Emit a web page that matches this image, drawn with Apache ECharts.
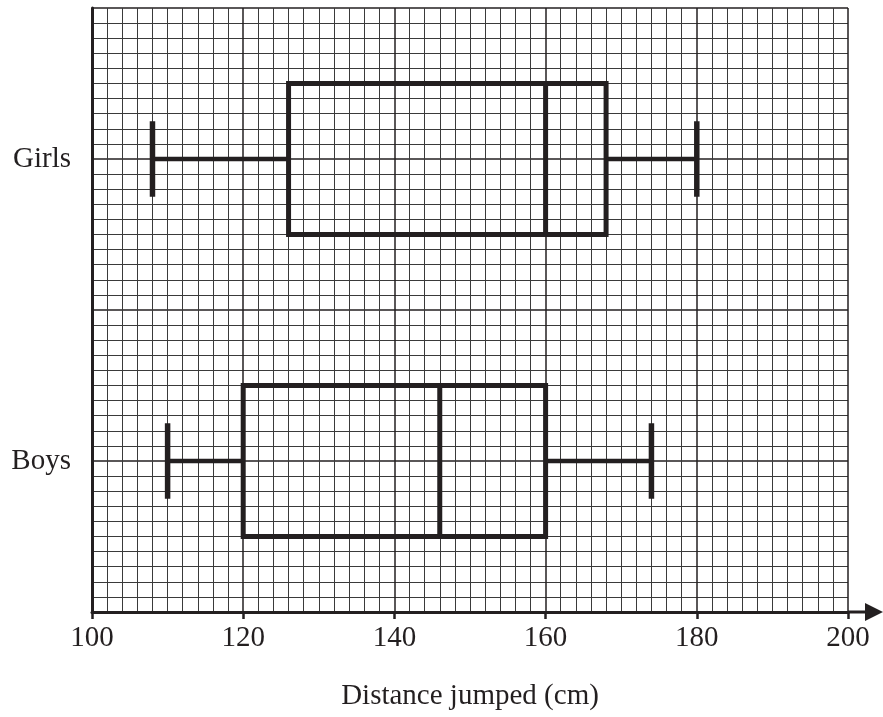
<!DOCTYPE html>
<html>
<head>
<meta charset="utf-8">
<script src="https://cdn.jsdelivr.net/npm/echarts@6/dist/echarts.min.js"></script>
<style>html,body{margin:0;padding:0;background:#fff}#c{width:883px;height:717px}</style>
</head>
<body>
<div id="c"></div>
<script>
var groups = ['Girls', 'Boys'];
var groupY = [60, 20];
var minVals = [108, 110];
var q1Vals = [126, 120];
var medianVals = [160, 146];
var q3Vals = [168, 160];
var maxVals = [180, 174];
var xTicks = [100, 120, 140, 160, 180, 200];

var boxData = groups.map(function (g, i) {
  return [groupY[i], minVals[i], q1Vals[i], medianVals[i], q3Vals[i], maxVals[i]];
});

var FONT = 'Liberation Serif';
var INK = '#231f20';
var chart = echarts.init(document.getElementById('c'));

function renderBox(params, api) {
  var y = api.value(0);
  var mn = api.value(1), q1 = api.value(2), md = api.value(3), q3 = api.value(4), mx = api.value(5);
  var halfBox = 10, halfCap = 5;
  function p(x, yy) { return api.coord([x, yy]); }
  var a = p(q1, y + halfBox), b = p(q3, y - halfBox);
  var st = { stroke: INK, fill: null, lineWidth: 5 };
  var wst = { stroke: INK, lineWidth: 4.5 };
  var cst = { stroke: INK, lineWidth: 5.5 };
  return {
    type: 'group',
    children: [
      { type: 'line', shape: { x1: p(mn, y)[0], y1: p(mn, y)[1], x2: p(q1, y)[0], y2: p(q1, y)[1] }, style: wst },
      { type: 'line', shape: { x1: p(q3, y)[0], y1: p(q3, y)[1], x2: p(mx, y)[0], y2: p(mx, y)[1] }, style: wst },
      { type: 'line', shape: { x1: p(mn, y + halfCap)[0], y1: p(mn, y + halfCap)[1], x2: p(mn, y - halfCap)[0], y2: p(mn, y - halfCap)[1] }, style: cst },
      { type: 'line', shape: { x1: p(mx, y + halfCap)[0], y1: p(mx, y + halfCap)[1], x2: p(mx, y - halfCap)[0], y2: p(mx, y - halfCap)[1] }, style: cst },
      { type: 'rect', shape: { x: a[0], y: a[1], width: b[0] - a[0], height: b[1] - a[1] }, style: st },
      { type: 'line', shape: { x1: p(md, y + halfBox)[0], y1: p(md, y + halfBox)[1], x2: p(md, y - halfBox)[0], y2: p(md, y - halfBox)[1] }, style: st }
    ]
  };
}

function renderArrow(params, api) {
  var e = api.coord([api.value(0), api.value(1)]);
  return {
    type: 'group',
    children: [
      { type: 'line', shape: { x1: e[0], y1: e[1], x2: e[0] + 20, y2: e[1] }, style: { stroke: INK, lineWidth: 3 } },
      { type: 'polygon', shape: { points: [[e[0] + 17, e[1] - 9], [e[0] + 35, e[1]], [e[0] + 17, e[1] + 9]] }, style: { fill: INK } }
    ]
  };
}

chart.setOption({
  animation: false,
  backgroundColor: '#fff',
  grid: { left: 92, right: 35, top: 8, bottom: 105, containLabel: false },
  xAxis: {
    type: 'value', min: 100, max: 200, interval: 20,
    name: 'Distance jumped (cm)', nameLocation: 'middle', nameGap: 70,
    nameTextStyle: { fontFamily: FONT, fontSize: 29, color: INK },
    axisLine: { show: true, onZero: false, lineStyle: { color: INK, width: 3 } },
    axisTick: { show: true, length: 7, lineStyle: { color: INK, width: 2.5 } },
    axisLabel: { margin: 12, fontFamily: FONT, fontSize: 29, color: INK,
      formatter: function (v) { return xTicks.indexOf(v) >= 0 ? String(v) : ''; } },
    splitLine: { show: true, lineStyle: { color: INK, width: 1.5 } },
    minorTick: { show: false, splitNumber: 10 },
    minorSplitLine: { show: true, lineStyle: { color: '#3a3a3a', width: 1 } }
  },
  yAxis: {
    type: 'value', min: 0, max: 80, interval: 20,
    axisLine: { show: true, lineStyle: { color: INK, width: 3 } },
    axisTick: { show: false },
    axisLabel: { margin: 21, fontFamily: FONT, fontSize: 29, color: INK,
      formatter: function (v) { var i = groupY.indexOf(v); return i >= 0 ? groups[i] : ''; } },
    splitLine: { show: true, lineStyle: { color: INK, width: 1.5 } },
    minorTick: { show: false, splitNumber: 10 },
    minorSplitLine: { show: true, lineStyle: { color: '#3a3a3a', width: 1 } }
  },
  series: [
    { type: 'custom', renderItem: renderBox, data: boxData, clip: false, z: 10,
      encode: { x: [1, 2, 3, 4, 5], y: 0 } },
    { type: 'custom', renderItem: renderArrow, data: [[200, 0]], clip: false, z: 11,
      encode: { x: 0, y: 1 } }
  ]
});
</script>
</body>
</html>
